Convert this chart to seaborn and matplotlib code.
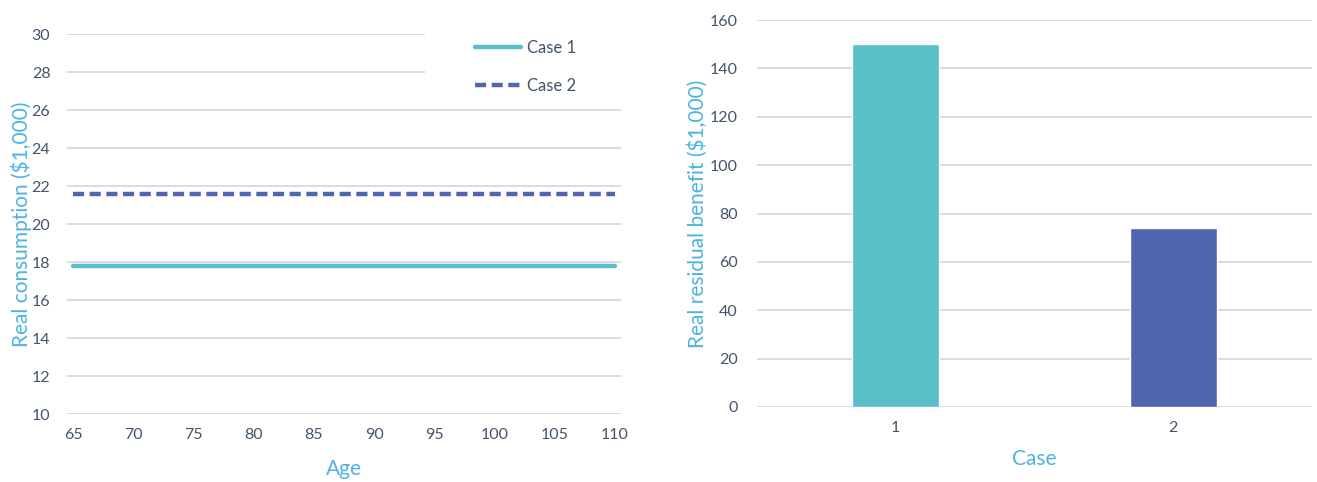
import matplotlib
matplotlib.use("Agg")
import matplotlib.pyplot as plt
from matplotlib.patches import Rectangle
import seaborn as sns
import pandas as pd

# Data
ages = list(range(65, 111))
case1_consumption = [17.8] * len(ages)
case2_consumption = [21.6] * len(ages)
series_names = ["Case 1", "Case 2"]
case_labels = ["1", "2"]
residual_benefit = [150, 74]

teal = "#5BBFCA"
navy = "#5066B1"
tick_color = "#44546A"
label_color = "#4DB3E2"
grid_color = "#D9D9D9"

sns.set_theme(style="white")
plt.rcParams["font.family"] = ["Lato", "DejaVu Sans"]

W, H = 1317, 482
fig = plt.figure(figsize=(W / 100, H / 100), dpi=100)

# Left: consumption by age
ax1 = fig.add_axes([67 / W, 1 - 414 / H, (621 - 67) / W, (414 - 34) / H])
df_line = pd.DataFrame({
    "Age": ages * 2,
    "value": case1_consumption + case2_consumption,
    "series": [series_names[0]] * len(ages) + [series_names[1]] * len(ages),
})
sns.lineplot(data=df_line, x="Age", y="value", hue="series", style="series",
             palette=[teal, navy], dashes=[(None, None), (2.5, 1.25)], linewidth=3.2,
             ax=ax1, legend=True, zorder=3)
ax1.set_xlim(64.5, 110.5)
ax1.set_ylim(10, 30)
ax1.set_xticks(range(65, 111, 5))
ax1.set_yticks(range(10, 31, 2))
ax1.yaxis.grid(True, color=grid_color, linewidth=1.3)
ax1.set_axisbelow(True)
for s in ax1.spines.values():
    s.set_visible(False)
ax1.tick_params(axis="both", colors=tick_color, labelsize=11.5, length=0)
ax1.tick_params(axis="x", pad=10)
ax1.tick_params(axis="y", pad=12)
ax1.set_xlabel("Age", color=label_color, fontsize=15, labelpad=12)
ax1.set_ylabel("Real consumption ($1,000)", color=label_color, fontsize=15, labelpad=0)

# white legend area masking the upper gridlines
ax1.add_patch(Rectangle((425 / W, 1 - 100 / H), (625 - 425) / W, 80 / H,
                        transform=fig.transFigure, facecolor="white",
                        edgecolor="none", zorder=1.5, clip_on=False))
leg = ax1.legend(loc="upper left", bbox_to_anchor=(475 / W, 1 - 40 / H),
                 bbox_transform=fig.transFigure, frameon=False,
                 fontsize=12, handlelength=2.75, handletextpad=0.35,
                 labelspacing=1.3, borderpad=0, borderaxespad=0)
for t in leg.get_texts():
    t.set_color(tick_color)

# Right: residual benefit by case
ax2 = fig.add_axes([757 / W, 1 - 407 / H, (1312 - 757) / W, (407 - 20) / H])
df_bar = pd.DataFrame({"Case": case_labels, "benefit": residual_benefit})
sns.barplot(data=df_bar, x="Case", y="benefit", hue="Case", palette=[teal, navy],
            width=0.315, legend=False, ax=ax2, saturation=1)
ax2.set_ylim(0, 160)
ax2.set_xlim(-0.5, 1.5)
ax2.set_yticks(range(0, 161, 20))
ax2.yaxis.grid(True, color=grid_color, linewidth=1.3)
ax2.set_axisbelow(True)
for s in ax2.spines.values():
    s.set_visible(False)
ax2.tick_params(axis="both", colors=tick_color, labelsize=11.5, length=0)
ax2.tick_params(axis="x", pad=10)
ax2.tick_params(axis="y", pad=14)
ax2.set_xlabel("Case", color=label_color, fontsize=15, labelpad=10)
ax2.set_ylabel("Real residual benefit ($1,000)", color=label_color, fontsize=15, labelpad=1)

fig.savefig("out.png", dpi=100, facecolor="white")
